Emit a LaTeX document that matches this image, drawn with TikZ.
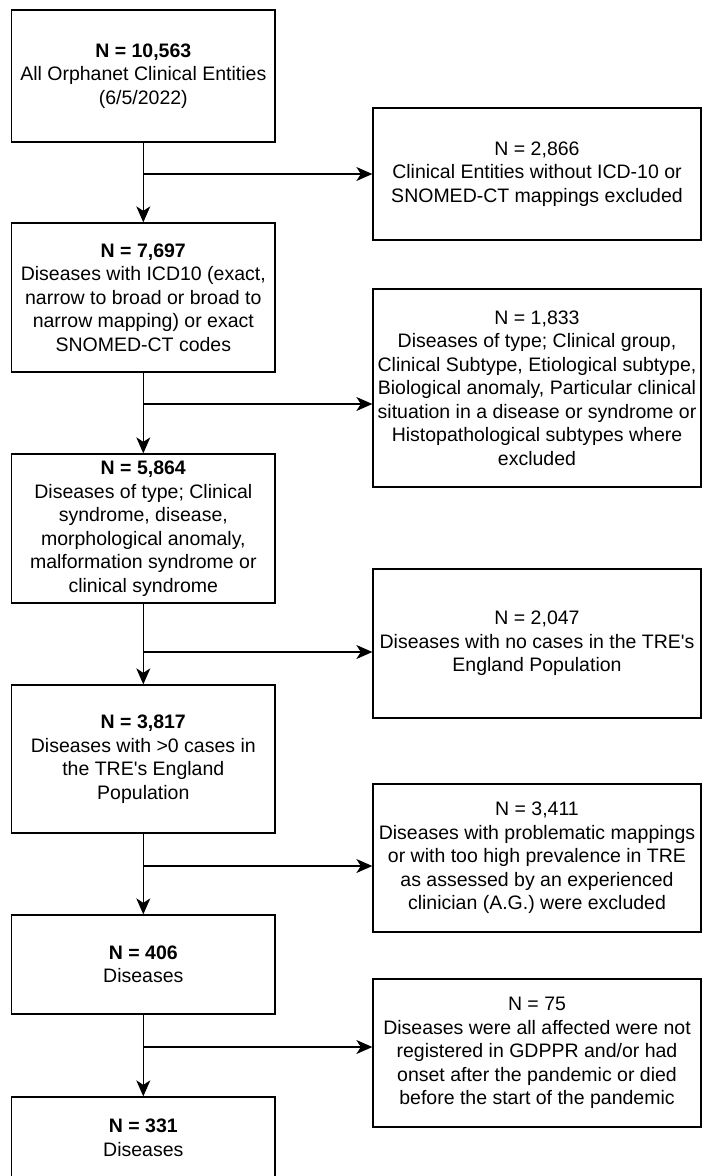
\documentclass[tikz,border=0pt]{standalone}
\usepackage{fontspec}
\setmainfont{Liberation Sans}
\usetikzlibrary{arrows.meta}
\tikzset{
  flowbox/.style={draw=black, line width=1.3pt, rectangle, align=center, inner sep=0pt,
    font=\fontsize{19.5}{23.5}\selectfont},
  leftbox/.style={flowbox, minimum width=263.3pt},
  rightbox/.style={flowbox, minimum width=328pt},
  flowarrow/.style={draw=black, line width=1.3pt, -{Stealth[length=16pt,width=14pt,inset=4.5pt]}}
}
\begin{document}
\begin{tikzpicture}[x=1pt,y=-1pt]
\clip (0,0) rectangle (702,1176);
\fill[white] (0,0) rectangle (702,1176);
% left column
\node[leftbox, minimum height=132pt] (b1) at (143.3,76) {\textbf{N = 10,563}\\All Orphanet Clinical Entities\\(6/5/2022)};
\node[leftbox, minimum height=149pt] (b2) at (143.3,297.5) {\textbf{N = 7,697}\\Diseases with ICD10 (exact,\\narrow to broad or broad to\\narrow mapping) or exact\\SNOMED-CT codes};
\node[leftbox, minimum height=149pt] (b3) at (143.3,528.5) {\textbf{N = 5,864}\\Diseases of type; Clinical\\syndrome, disease,\\morphological anomaly,\\malformation syndrome or\\clinical syndrome};
\node[leftbox, minimum height=148pt] (b4) at (143.3,759) {\textbf{N = 3,817}\\Diseases with >0 cases in\\the TRE\textquotesingle s England\\Population};
\node[leftbox, minimum height=99pt] (b5) at (143.3,964.5) {\textbf{N = 406}\\Diseases};
\node[leftbox, minimum height=82pt] (b6) at (143.3,1138) {\textbf{N = 331}\\Diseases};
% right column
\node[rightbox, minimum height=132pt] (r1) at (537,174) {N = 2,866\\Clinical Entities without ICD-10 or\\SNOMED-CT mappings excluded};
\node[rightbox, minimum height=198pt] (r2) at (537,388) {N = 1,833\\Diseases of type; Clinical group,\\Clinical Subtype, Etiological subtype,\\Biological anomaly, Particular clinical\\situation in a disease or syndrome or\\Histopathological subtypes where\\excluded};
\node[rightbox, minimum height=149pt] (r3) at (537,643.5) {N = 2,047\\Diseases with no cases in the TRE\textquotesingle s\\England Population};
\node[rightbox, minimum height=148pt] (r4) at (537,858) {N = 3,411\\Diseases with problematic mappings\\or with too high prevalence in TRE\\as assessed by an experienced\\clinician (A.G.) were excluded};
\node[rightbox, minimum height=148pt] (r5) at (537,1053) {N = 75\\Diseases were all affected were not\\registered in GDPPR and/or had\\onset after the pandemic or died\\before the start of the pandemic};
% branch points
\coordinate (c1) at (143.3,174);
\coordinate (c2) at (143.3,404);
\coordinate (c3) at (143.3,652);
\coordinate (c4) at (143.3,866);
\coordinate (c5) at (143.3,1047);
% vertical arrows
\draw[flowarrow] (b1.south) -- (b2.north);
\draw[flowarrow] (b2.south) -- (b3.north);
\draw[flowarrow] (b3.south) -- (b4.north);
\draw[flowarrow] (b4.south) -- (b5.north);
\draw[flowarrow] (b5.south) -- (b6.north);
% horizontal arrows
\draw[flowarrow] (c1) -- (c1 -| r1.west);
\draw[flowarrow] (c2) -- (c2 -| r2.west);
\draw[flowarrow] (c3) -- (c3 -| r3.west);
\draw[flowarrow] (c4) -- (c4 -| r4.west);
\draw[flowarrow] (c5) -- (c5 -| r5.west);
\end{tikzpicture}
\end{document}
